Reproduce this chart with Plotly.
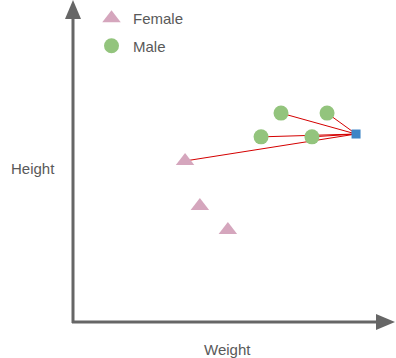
import plotly.graph_objects as go

# data (weight, height) in arbitrary units, axes 0..100
female_weight = [34.8, 39.4, 48.1]
female_height = [50.8, 36.6, 29.0]
male_weight = [64.6, 78.9, 58.4, 74.2]
male_height = [65.9, 65.9, 58.4, 58.4]
query_weight = [87.9]
query_height = [59.3]
# neighbours linked to the query point: (group, index)
neighbours = [("male", 0), ("male", 1), ("male", 2), ("male", 3), ("female", 0)]

W, H = 396, 358
ox, oy = 73, 322          # pixel of origin
sx, sy = 3.22, 3.17       # px per unit
xr = [-ox / sx, (W - ox) / sx]
yr = [(oy - H) / sy, oy / sy]

fig = go.Figure()

groups = {"male": (male_weight, male_height), "female": (female_weight, female_height)}
for g, i in neighbours:
    xs, ys = groups[g]
    fig.add_trace(go.Scatter(x=[query_weight[0], xs[i]], y=[query_height[0], ys[i]],
                             mode="lines", line=dict(color="#d40000", width=1),
                             showlegend=False, hoverinfo="skip"))

fig.add_trace(go.Scatter(x=female_weight, y=female_height, mode="markers", name="Female",
                         legendgroup="f",
                         marker=dict(symbol="triangle-up", size=16, color="#d5a6bd")))
fig.add_trace(go.Scatter(x=male_weight, y=male_height, mode="markers", name="Male",
                         legendgroup="m",
                         marker=dict(symbol="circle", size=15, color="#93c47d")))
fig.add_trace(go.Scatter(x=query_weight, y=query_height, mode="markers", showlegend=False,
                         marker=dict(symbol="square", size=9, color="#3d85c6")))

axis_col = "#666666"
shapes = []
# y axis
shapes.append(dict(type="line", x0=0, y0=-1/sy, x1=0, y1=(oy - 16) / sy,
                   line=dict(color=axis_col, width=3), xref="x", yref="y"))
tip = oy / sy
base = (oy - 19) / sy
hw = 8 / sx
shapes.append(dict(type="path", path=f"M {-hw},{base} L 0,{tip} L {hw},{base} Z",
                   fillcolor=axis_col, line=dict(width=0), xref="x", yref="y"))
# x axis
shapes.append(dict(type="line", x0=-1/sx, y0=0, x1=(395 - ox - 16) / sx, y1=0,
                   line=dict(color=axis_col, width=3), xref="x", yref="y"))
tipx = (395 - ox) / sx
basex = (395 - ox - 19) / sx
hh = 8 / sy
shapes.append(dict(type="path", path=f"M {basex},{-hh} L {tipx},0 L {basex},{hh} Z",
                   fillcolor=axis_col, line=dict(width=0), xref="x", yref="y"))

annotations = [
    dict(text="Height", x=(33 - ox) / sx, y=(oy - 168) / sy, xref="x", yref="y",
         showarrow=False, font=dict(size=15, color="#595959")),
    dict(text="Weight", x=(227 - ox) / sx, y=(oy - 349) / sy, xref="x", yref="y",
         showarrow=False, font=dict(size=15, color="#595959")),
]

fig.update_layout(
    width=W, height=H, margin=dict(l=0, r=0, t=0, b=0),
    plot_bgcolor="white", paper_bgcolor="white",
    font=dict(family="Liberation Sans, Arial, sans-serif"),
    xaxis=dict(range=xr, visible=False, fixedrange=True),
    yaxis=dict(range=yr, visible=False, fixedrange=True),
    shapes=shapes, annotations=annotations,
    showlegend=True,
    legend=dict(x=(90) / W, y=1 - 2 / H, xanchor="left", yanchor="top",
                bgcolor="rgba(0,0,0,0)", font=dict(size=15, color="#595959"),
                tracegroupgap=5, itemwidth=33),
)

fig.write_html("out.html", config={"staticPlot": True},
               post_script="document.body.style.margin='0';document.body.style.overflow='hidden';")
